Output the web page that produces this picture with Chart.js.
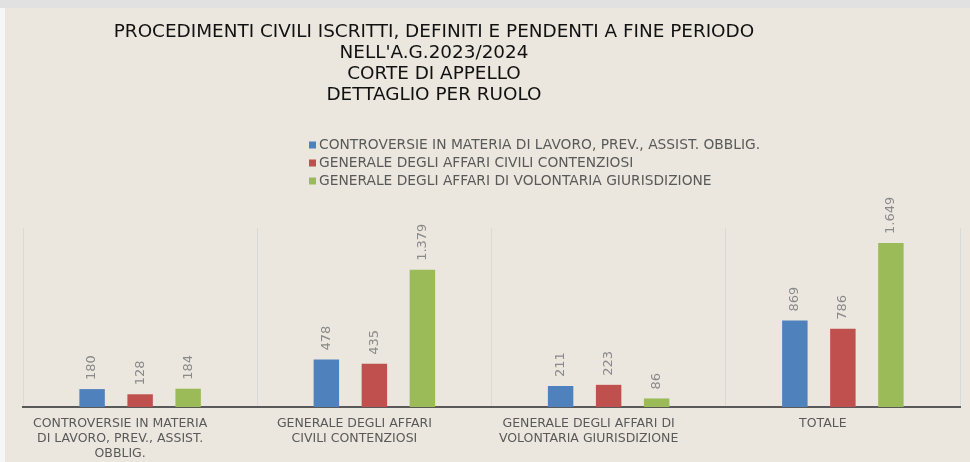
<!DOCTYPE html>
<html lang="it">
<head>
  <meta charset="UTF-8">
  <title>Procedimenti civili - Corte di Appello</title>
  <script src="https://cdn.jsdelivr.net/npm/chart.js"></script>
  <style>
    html, body { margin: 0; padding: 0; background: #f6f6f6; }
    #topbar { height: 8px; background: #e1e1e1; }
    #frame {
      margin-left: 5px;
      width: 965px;
      height: 454px;
      background: #ebe7de;
    }
    #wrap { position: relative; width: 965px; height: 454px; }
  </style>
</head>
<body>
<div id="topbar"></div>
<div id="frame">
  <div id="wrap"><canvas id="chart"></canvas></div>
</div>

<script>
  // Data
  const titleLines = [
    'PROCEDIMENTI CIVILI ISCRITTI, DEFINITI E PENDENTI A FINE PERIODO',
    "NELL'A.G.2023/2024",
    'CORTE DI APPELLO',
    'DETTAGLIO PER RUOLO'
  ];
  const categories = [
    ['CONTROVERSIE IN MATERIA', 'DI LAVORO, PREV., ASSIST.', 'OBBLIG.'],
    ['GENERALE DEGLI AFFARI', 'CIVILI CONTENZIOSI'],
    ['GENERALE DEGLI AFFARI DI', 'VOLONTARIA GIURISDIZIONE'],
    ['TOTALE']
  ];
  const seriesNames = [
    'CONTROVERSIE IN MATERIA DI LAVORO, PREV., ASSIST. OBBLIG.',
    'GENERALE DEGLI AFFARI CIVILI CONTENZIOSI',
    'GENERALE DEGLI AFFARI DI VOLONTARIA GIURISDIZIONE'
  ];
  const lavoro = [180, 478, 211, 869];
  const contenziosi = [128, 435, 223, 786];
  const volontaria = [184, 1379, 86, 1649];
  const seriesColors = ['#4f81bd', '#c0504d', '#9bbb59'];

  // 1.379 style thousands separator
  function fmt(v) {
    return String(v).replace(/\B(?=(\d{3})+(?!\d))/g, '.');
  }

  // Title + legend drawn at fixed spots (legend is a left-aligned column)
  const headerPlugin = {
    id: 'header',
    afterDraw(chart) {
      const ctx = chart.ctx;
      ctx.save();
      ctx.fillStyle = '#111111';
      ctx.font = '18.4px "DejaVu Sans", sans-serif';
      ctx.textAlign = 'center';
      ctx.textBaseline = 'middle';
      titleLines.forEach((t, i) => ctx.fillText(t, 429, 24 + i * 21));

      ctx.font = '13.8px "DejaVu Sans", sans-serif';
      ctx.textAlign = 'left';
      chart.data.datasets.forEach((ds, i) => {
        const y = 137 + i * 18;
        ctx.fillStyle = ds.backgroundColor;
        ctx.fillRect(304, y - 3.5, 7, 7);
        ctx.fillStyle = '#595959';
        ctx.fillText(ds.label, 314, y);
      });
      ctx.restore();
    }
  };

  // Rotated value labels above each bar
  const valueLabels = {
    id: 'valueLabels',
    afterDatasetsDraw(chart) {
      const ctx = chart.ctx;
      ctx.save();
      ctx.fillStyle = '#8a8a8a';
      ctx.font = '13px "DejaVu Sans", sans-serif';
      ctx.textAlign = 'left';
      ctx.textBaseline = 'middle';
      chart.data.datasets.forEach((ds, i) => {
        chart.getDatasetMeta(i).data.forEach((bar, j) => {
          ctx.save();
          ctx.translate(bar.x, bar.y - 9);
          ctx.rotate(-Math.PI / 2);
          ctx.fillText(fmt(ds.data[j]), 0, 0);
          ctx.restore();
        });
      });
      ctx.restore();
    }
  };

  const ctx = document.getElementById('chart').getContext('2d');
  new Chart(ctx, {
    type: 'bar',
    data: {
      labels: categories,
      datasets: [
        { label: seriesNames[0], data: lavoro, backgroundColor: seriesColors[0] },
        { label: seriesNames[1], data: contenziosi, backgroundColor: seriesColors[1] },
        { label: seriesNames[2], data: volontaria, backgroundColor: seriesColors[2] }
      ]
    },
    options: {
      responsive: true,
      maintainAspectRatio: false,
      animation: false,
      layout: { padding: { left: 18, right: 10, top: 220, bottom: 0 } },
      datasets: {
        bar: { categoryPercentage: 0.615, barPercentage: 0.53 }
      },
      plugins: {
        legend: { display: false },
        title: { display: false },
        tooltip: { enabled: false }
      },
      scales: {
        x: {
          afterFit(scale) { scale.height = 55; },
          grid: { display: true, offset: true, color: '#d9d9d9', drawTicks: false },
          border: { display: true, color: '#595959', width: 2 },
          ticks: {
            color: '#595959',
            font: { family: 'DejaVu Sans', size: 12.5 },
            padding: 9,
            labelOffset: -20,
            maxRotation: 0,
            autoSkip: false
          }
        },
        y: {
          display: false,
          min: 0,
          max: 1800
        }
      }
    },
    plugins: [headerPlugin, valueLabels]
  });
</script>
</body>
</html>
